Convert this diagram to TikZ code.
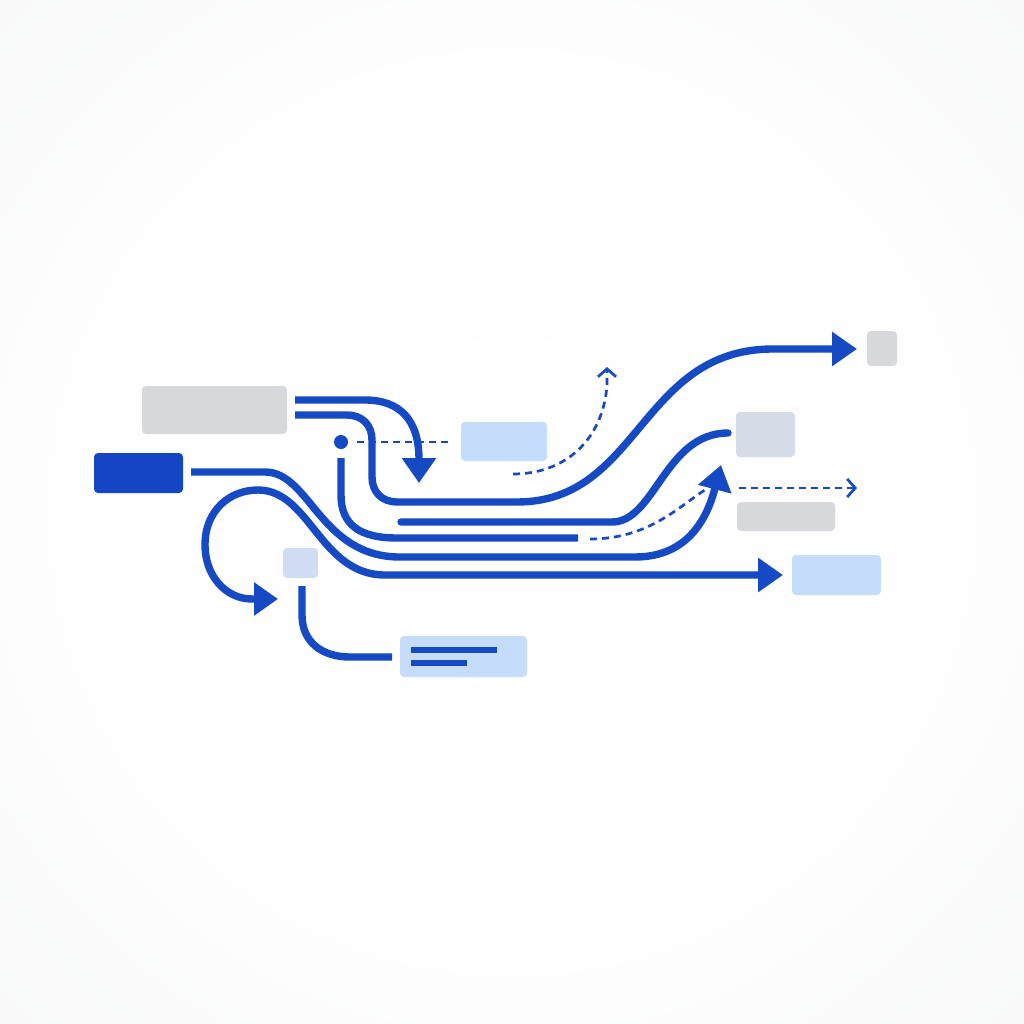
\documentclass[tikz,border=0pt]{standalone}
\usetikzlibrary{arrows.meta}
\definecolor{flow}{RGB}{22,74,196}
\definecolor{darkbox}{RGB}{20,70,196}
\definecolor{lightbox}{RGB}{197,221,250}
\definecolor{greybox}{RGB}{214,216,219}
\definecolor{slatebox}{RGB}{213,220,231}
\definecolor{tilebox}{RGB}{207,220,243}
\pgfdeclareradialshading{bgshade}{\pgfpoint{0bp}{0bp}}{rgb(0bp)=(1,1,1); rgb(22bp)=(0.995,0.995,0.995); rgb(50bp)=(0.953,0.957,0.961); rgb(72bp)=(0.925,0.933,0.941)}
\begin{document}
\begin{tikzpicture}[x=1pt,y=-1pt,
  box/.style={inner sep=0pt, outer sep=0pt, rounded corners=4pt, draw=none},
  flowline/.style={draw=flow, line width=7.4pt},
  dashflow/.style={draw=flow, line width=2.7pt, dash pattern=on 7pt off 5pt},
  bigtip/.style={-{Triangle[length=25pt,width=33pt]}},
  bothtip/.style={{Triangle[length=24pt,width=32pt]}-{Triangle[length=25pt,width=33pt]}},
  opentip/.style={-{Straight Barb[length=8pt,width=18pt,line width=2.7pt]}}]
\useasboundingbox (0,0) rectangle (1024,1024);
\shade[shading=bgshade] (0,0) rectangle (1024,1024);

% boxes
\node[box, fill=greybox, minimum width=145pt, minimum height=48pt] (g1) at (214.5,410) {};
\node[box, fill=darkbox, minimum width=89pt, minimum height=40pt] (d1) at (138.5,473) {};
\node[box, fill=lightbox, minimum width=86pt, minimum height=39pt] (l1) at (504,441.5) {};
\node[box, fill=greybox, minimum width=30pt, minimum height=35pt] (g2) at (882,348.5) {};
\node[box, fill=slatebox, minimum width=59pt, minimum height=45pt] (s1) at (765.5,434.5) {};
\node[box, fill=greybox, minimum width=98pt, minimum height=29pt] (g3) at (786,516.5) {};
\node[box, fill=lightbox, minimum width=89pt, minimum height=40pt] (l2) at (836.5,575) {};
\node[box, fill=tilebox, minimum width=35pt, minimum height=30pt] (t1) at (300.5,563) {};
\node[box, fill=lightbox, minimum width=127pt, minimum height=41pt] (l3) at (463.5,656.5) {};
\fill[flow] (411,647) rectangle (497,653);
\fill[flow] (411,660) rectangle (467,666);

% named ends
\coordinate (a0) at (295,400);
\coordinate (a1) at (419,483);
\coordinate (b0) at (295,415);
\coordinate (b1) at (857,349);
\coordinate (c0) at (341,442);
\coordinate (c1) at (341,458);
\coordinate (c2) at (578,538);
\coordinate (c3) at (452,442);
\coordinate (d0) at (191,472);
\coordinate (d2) at (721,465);
\coordinate (e0) at (401,522);
\coordinate (e1) at (728,433);
\coordinate (h0) at (302,586);
\coordinate (h1) at (392,657);
\coordinate (p0) at (278,599);
\coordinate (p1) at (783,575);

% A
\draw[flowline,bigtip] (a0) -- (365,400) .. controls (400,400) and (419,420) .. (a1);
% B
\draw[flowline,bigtip] (b0) -- (347,415) .. controls (362,415) and (372,425) .. (372,440)
  -- (372,477) .. controls (372,492) and (382,502) .. (397,502)
  -- (517,502) .. controls (640,502) and (640,349) .. (773,349) -- (b1);
% C
\fill[flow] (c0) circle (7pt);
\draw[dashflow] (357,442) -- (c3);
\draw[flowline] (c1) -- (341,495) .. controls (341,525) and (360,538) .. (397,538) -- (c2);
\draw[dashflow] (590,539) .. controls (650,539) and (680,505) .. (708,488);
% D
\draw[flowline,bigtip] (d0) -- (265,472) .. controls (310,472) and (320,557) .. (400,557)
  -- (635,557) .. controls (690,557) and (708,515) .. (d2);
% E
\draw[flowline,line cap=round] (e0) -- (612,522) .. controls (655,522) and (665,433) .. (e1);
% F
\draw[dashflow,opentip] (513,474) .. controls (565,474) and (603,440) .. (607,385) -- (607,367);
% G
\draw[dashflow,opentip] (739,488) -- (857,488);
% loop
\draw[flowline,bothtip] (p0) -- (252,599) .. controls (225,599) and (205,575) .. (205,545)
  .. controls (205,510) and (230,490) .. (258,490)
  .. controls (310,490) and (320,575) .. (385,575) -- (p1);
% H
\draw[flowline] (h0) -- (302,615) .. controls (302,642) and (322,657) .. (350,657) -- (h1);
\end{tikzpicture}
\end{document}
